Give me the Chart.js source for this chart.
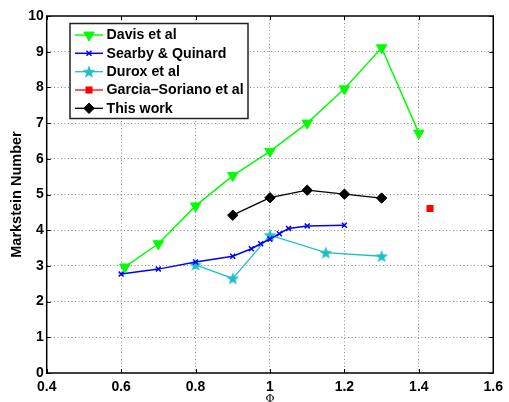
<!DOCTYPE html>
<html><head><meta charset="utf-8">
<script src="https://cdn.jsdelivr.net/npm/chart.js@4/dist/chart.umd.min.js"></script>
<style>html,body{margin:0;padding:0;background:#fff;}#wrap{width:509px;height:402px;}</style>
</head><body><div id="wrap"><canvas id="c" width="509" height="402"></canvas></div>
<script>
// ---- data ----
const davisPhi = [0.61, 0.7, 0.8, 0.9, 1.0, 1.1, 1.2, 1.3, 1.4];
const davisMa  = [2.97, 3.62, 4.68, 5.53, 6.21, 7.0, 7.96, 9.11, 6.72];
const searbyPhi = [0.6, 0.7, 0.8, 0.9, 0.95, 0.975, 1.0, 1.025, 1.05, 1.1, 1.2];
const searbyMa  = [2.77, 2.91, 3.11, 3.27, 3.48, 3.62, 3.75, 3.9, 4.05, 4.12, 4.14];
const duroxPhi = [0.8, 0.9, 1.0, 1.15, 1.3];
const duroxMa  = [3.03, 2.65, 3.86, 3.37, 3.27];
const garciaPhi = [1.43];
const garciaMa  = [4.61];
const thisPhi = [0.9, 1.0, 1.1, 1.2, 1.3];
const thisMa  = [4.42, 4.91, 5.12, 5.01, 4.9];
const seriesLabels = ['Davis et al', 'Searby & Quinard', 'Durox et al', 'Garcia\u2013Soriano et al', 'This work'];
const xTicks = [0.4, 0.6, 0.8, 1.0, 1.2, 1.4, 1.6];
const yTicks = [0,1,2,3,4,5,6,7,8,9,10];

const pts = (xs, ys) => xs.map((x, i) => ({x, y: ys[i]}));

// pentagram marker
function starImg(color, R) {
  const s = Math.ceil(R * 2) + 2;
  const c = document.createElement('canvas');
  c.width = s; c.height = s;
  const g = c.getContext('2d');
  g.fillStyle = color; g.strokeStyle = color; g.lineWidth = 0.8;
  g.beginPath();
  for (let i = 0; i < 10; i++) {
    const r = i % 2 === 0 ? R : R * 0.42;
    const a = -Math.PI / 2 + i * Math.PI / 5;
    const px = s / 2 + r * Math.cos(a), py = s / 2 + 0.5 + r * Math.sin(a);
    i ? g.lineTo(px, py) : g.moveTo(px, py);
  }
  g.closePath(); g.fill(); g.stroke();
  return c;
}
const CYAN = '#1fbfbf';
const star = starImg(CYAN, 5.8);

const FONT = "'Liberation Sans', Arial, Helvetica, sans-serif";

const framePlugin = {
  id: 'frame',
  afterDatasetsDraw(chart) {
    const {ctx, chartArea: a, scales: {x, y}} = chart;
    ctx.save();
    ctx.strokeStyle = '#000';
    ctx.lineWidth = 1;
    const tl = 4;
    ctx.beginPath();
    xTicks.forEach(v => {
      const px = Math.round(x.getPixelForValue(v)) + 0.5;
      ctx.moveTo(px, a.bottom); ctx.lineTo(px, a.bottom - tl);
      ctx.moveTo(px, a.top); ctx.lineTo(px, a.top + tl);
    });
    yTicks.forEach(v => {
      const py = Math.round(y.getPixelForValue(v)) + 0.5;
      ctx.moveTo(a.left, py); ctx.lineTo(a.left + tl, py);
      ctx.moveTo(a.right, py); ctx.lineTo(a.right - tl, py);
    });
    ctx.stroke();
    ctx.lineWidth = 1.5;
    ctx.strokeRect(a.left, a.top, a.right - a.left, a.bottom - a.top);
    ctx.restore();
  },
  afterDraw(chart) {
    // legend box
    const ctx = chart.ctx;
    const bx = 70, by = 23.5, bw = 178, bh = 95;
    ctx.save();
    ctx.fillStyle = '#fff';
    ctx.fillRect(bx, by, bw, bh);
    ctx.strokeStyle = '#222';
    ctx.lineWidth = 1.5;
    ctx.strokeRect(bx, by, bw, bh);
    const rowY = [35, 53.3, 71.7, 90, 108.3];
    chart.data.datasets.forEach((ds, i) => {
      const yy = rowY[i];
      ctx.strokeStyle = ds.borderColor;
      ctx.lineWidth = ds.borderWidth;
      ctx.beginPath(); ctx.moveTo(75, yy); ctx.lineTo(103, yy); ctx.stroke();
      ctx.fillStyle = ds.pointBackgroundColor;
      ctx.strokeStyle = ds.pointBorderColor;
      ctx.lineWidth = ds.pointBorderWidth;
      Chart.helpers.drawPoint(ctx, {pointStyle: ds.pointStyle, rotation: ds.pointRotation || 0, radius: ds.pointRadius, borderWidth: ds.pointBorderWidth}, 89, yy);
      ctx.fillStyle = '#000';
      ctx.font = 'bold 14.2px ' + FONT;
      ctx.textBaseline = 'middle';
      ctx.textAlign = 'left';
      ctx.fillText(ds.label, 106.5, yy + 0.5);
    });
    ctx.restore();
  }
};

const mk = (label, xs, ys, color, style, r, extra) => Object.assign({
  label, data: pts(xs, ys), borderColor: color, backgroundColor: color,
  pointBackgroundColor: color, pointBorderColor: color, pointBorderWidth: 1,
  pointStyle: style, pointRadius: r, pointHoverRadius: r, borderWidth: 1.3,
  showLine: true, tension: 0, fill: false
}, extra || {});

const datasets = [
  mk(seriesLabels[0], davisPhi, davisMa, '#00ff00', 'triangle', 6, {pointRotation: 180, borderWidth: 1.5}),
  mk(seriesLabels[1], searbyPhi, searbyMa, '#0000ff', 'crossRot', 3.5, {pointBorderWidth: 1.5, borderWidth: 1.5}),
  mk(seriesLabels[2], duroxPhi, duroxMa, CYAN, star, 6, {borderWidth: 1.3}),
  mk(seriesLabels[3], garciaPhi, garciaMa, '#ff0000', 'rect', 5, {pointBorderWidth: 0}),
  mk(seriesLabels[4], thisPhi, thisMa, '#000000', 'rectRot', 5.2, {borderWidth: 1.3})
];

const gridColor = (ctx) => {
  return (ctx.index === 0 || ctx.index === (ctx.scale.ticks.length - 1)) ? 'rgba(0,0,0,0)' : '#8a8a8a';
};

new Chart(document.getElementById('c'), {
  type: 'scatter',
  data: {datasets},
  options: {
    responsive: false,
    animation: false,
    events: [],
    layout: {padding: {top: 16, right: 12, left: 0, bottom: 0}},
    plugins: {legend: {display: false}, tooltip: {enabled: false}},
    scales: {
      x: {
        type: 'linear', min: 0.4, max: 1.6,
        afterBuildTicks: s => { s.ticks = xTicks.map(v => ({value: v})); },
        afterFit: s => { s.height = 29; },
        ticks: {
          color: '#000', padding: 6, maxRotation: 0, autoSkip: false,
          font: {family: FONT, size: 14, weight: 'bold'},
          callback: v => String(Math.round(v * 10) / 10)
        },
        grid: {color: gridColor, lineWidth: 1, drawTicks: false},
        border: {display: false, dash: [1, 2.5]},
        title: {display: true, text: '\u03A6', color: '#000', font: {family: "'DejaVu Serif', serif", size: 11}, padding: {top: 0, bottom: -3.5}}
      },
      y: {
        type: 'linear', min: 0, max: 10,
        afterBuildTicks: s => { s.ticks = yTicks.map(v => ({value: v})); },
        afterFit: s => { s.width = 46.7; },
        ticks: {color: '#000', padding: 3, autoSkip: false, font: {family: FONT, size: 14, weight: 'bold'}},
        grid: {color: gridColor, lineWidth: 1, drawTicks: false},
        border: {display: false, dash: [1, 2.5]},
        title: {display: true, text: 'Markstein Number', color: '#000', font: {family: FONT, size: 14.5, weight: 'bold'}, padding: {top: 8, bottom: 0}}
      }
    }
  },
  plugins: [framePlugin]
});
</script>
</body></html>
